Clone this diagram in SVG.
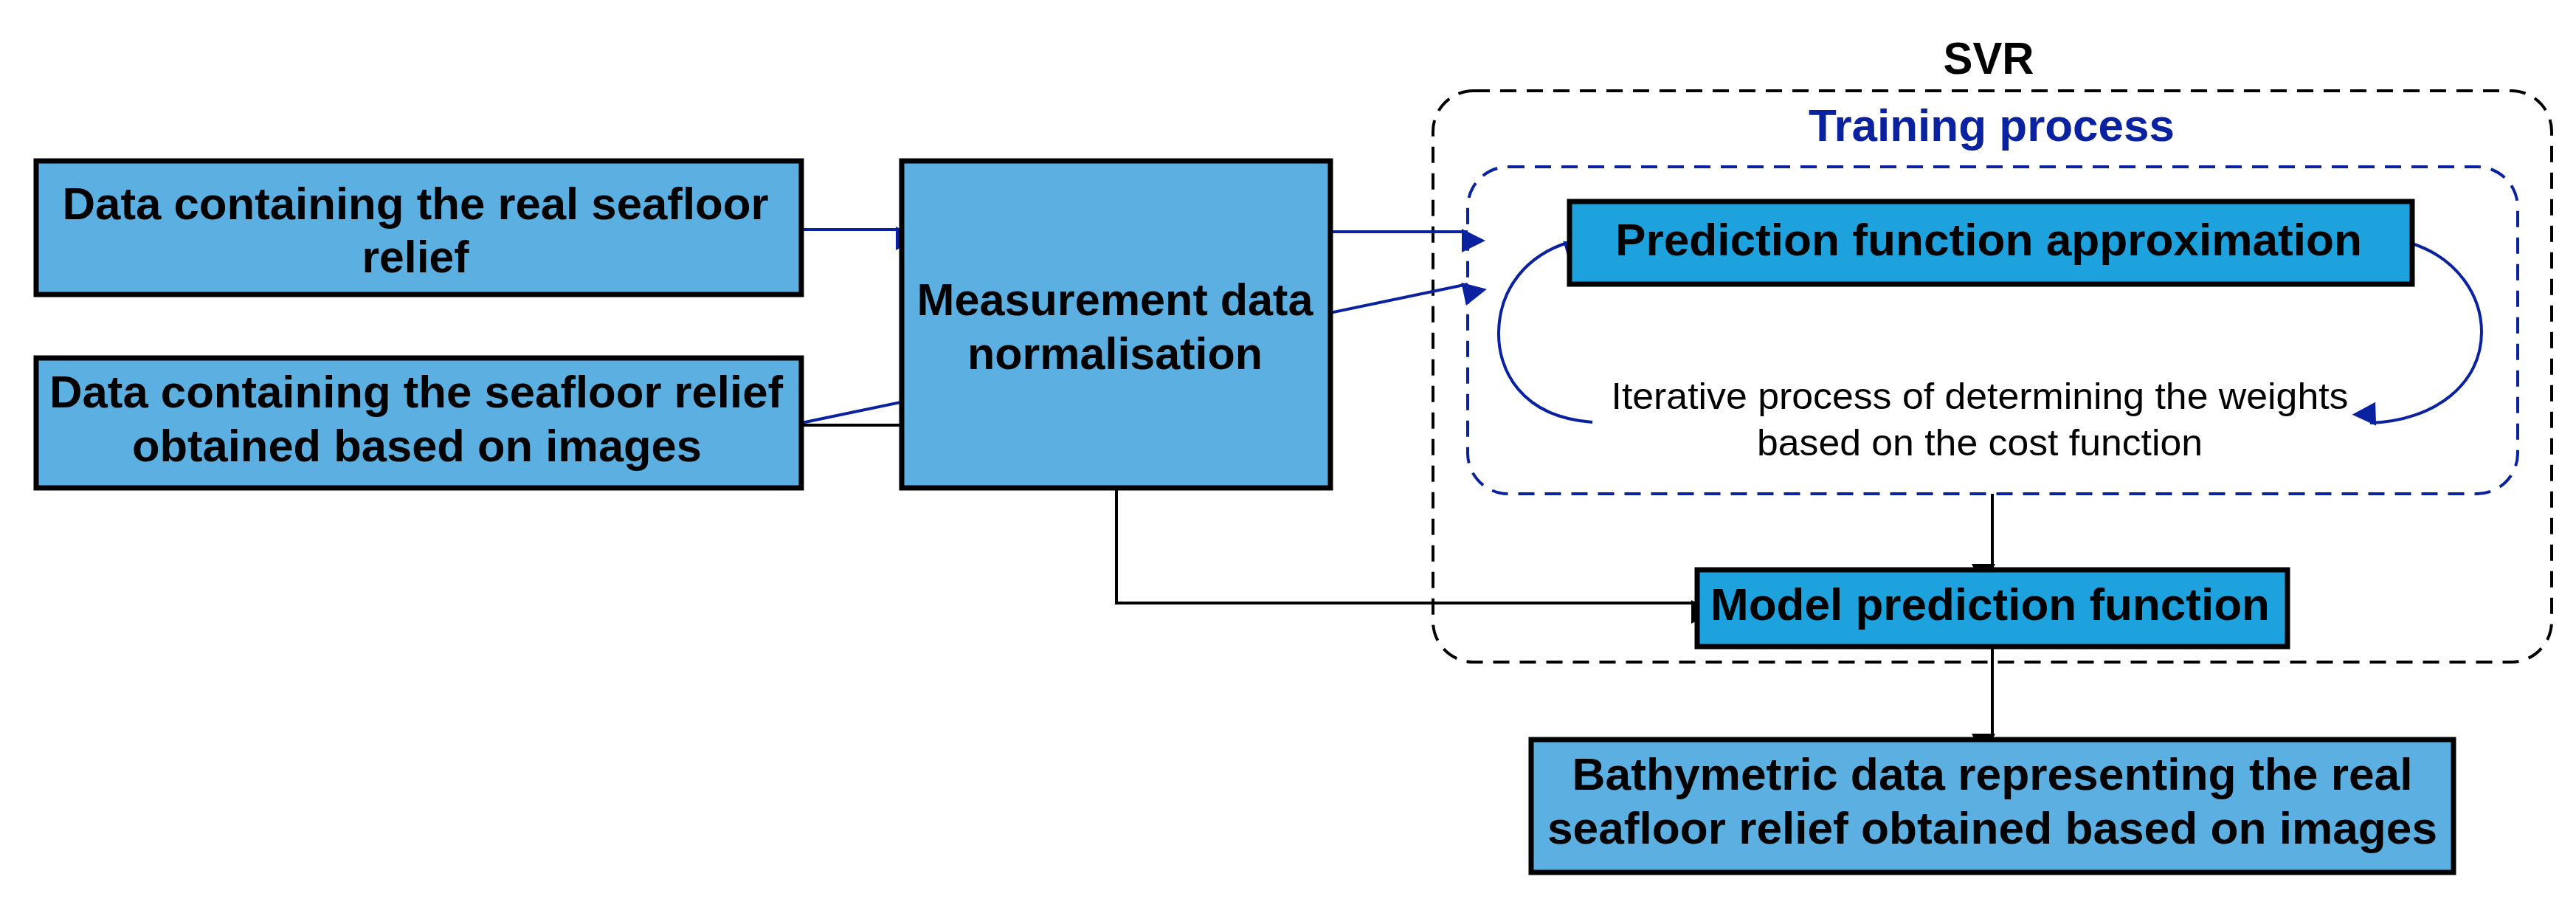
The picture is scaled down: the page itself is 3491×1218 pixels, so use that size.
<svg xmlns="http://www.w3.org/2000/svg" width="3491" height="1218" viewBox="0 0 3491 1218">
<style>
.b{fill:#5bb0e1;stroke:#000;stroke-width:7}
.d{fill:#1ea2de;stroke:#000;stroke-width:7}
.t{font-family:"Liberation Sans",Arial,sans-serif;font-weight:bold;font-size:62px;fill:#000;text-anchor:middle}
.it{font-family:"Liberation Sans",Arial,sans-serif;font-size:50px;fill:#000;text-anchor:middle}
.bl{stroke:#0a22a0;stroke-width:4;fill:none}
.k{stroke:#000;stroke-width:4;fill:none}
</style>
<defs>
<marker id="ab" viewBox="0 0 10 10" refX="10" refY="5" markerWidth="8" markerHeight="8" markerUnits="userSpaceOnUse" orient="auto" style="overflow:visible"><path d="M0,0L10,5L0,10z" fill="#0a22a0" transform="scale(4)"/></marker>
<marker id="ak" viewBox="0 0 10 10" refX="10" refY="5" markerWidth="8" markerHeight="8" markerUnits="userSpaceOnUse" orient="auto" style="overflow:visible"><path d="M0,0L10,5L0,10z" fill="#000" transform="scale(4)"/></marker>
</defs>
<rect width="3491" height="1218" fill="#fff"/>
<g id="svr">
<rect x="1942" y="123" width="1516" height="774" rx="55" fill="none" stroke="#000" stroke-width="4" stroke-dasharray="22,14"/>
<text class="t" x="2695" y="100" textLength="123" lengthAdjust="spacingAndGlyphs">SVR</text>
</g>
<g id="training">
<rect x="1989" y="226" width="1423" height="443" rx="55" fill="none" stroke="#0a22a0" stroke-width="4" stroke-dasharray="22,14"/>
<text class="t" x="2699" y="191" fill="#0a22a0" style="fill:#0a22a0" textLength="496" lengthAdjust="spacingAndGlyphs">Training process</text>
<text class="it" x="2683" y="554" textLength="999" lengthAdjust="spacingAndGlyphs">Iterative process of determining the weights</text>
<text class="it" x="2683" y="617" textLength="604" lengthAdjust="spacingAndGlyphs">based on the cost function</text>
</g>
<g id="connectors">
<path class="bl" d="M1086,573 L1989,385" marker-end="url(#ab)"/>
<path class="k" d="M1086,576 L1222,576"/>
<path class="bl" d="M1086,311 L1222,311" marker-end="url(#ab)"/>
<path class="bl" d="M1803,314 L1989,314" marker-end="url(#ab)"/>
<path class="k" d="M1513,661 L1513,817 L2300,817" marker-end="url(#ak)"/>
<path class="k" d="M2700,669 L2700,772" marker-end="url(#ak)"/>
<path class="k" d="M2700,876 L2700,1002" marker-end="url(#ak)"/>
<path class="bl" d="M2158,572 C2060,565 2030,500 2031,450 C2032,390 2070,345 2127,328" marker-end="url(#ab)"/>
<path class="bl" d="M3269,330 C3330,350 3363,400 3363,450 C3363,520 3300,570 3212,573" marker-end="url(#ab)"/>
</g>
<g id="box1">
<rect class="b" x="49" y="218" width="1037" height="181"/>
<text class="t" x="563" y="297" textLength="957" lengthAdjust="spacingAndGlyphs">Data containing the real seafloor</text>
<text class="t" x="563" y="369" textLength="145" lengthAdjust="spacingAndGlyphs">relief</text>
</g>
<g id="box2">
<rect class="b" x="49" y="485" width="1037" height="176"/>
<text class="t" x="564" y="552" textLength="994" lengthAdjust="spacingAndGlyphs">Data containing the seafloor relief</text>
<text class="t" x="565" y="625" textLength="772" lengthAdjust="spacingAndGlyphs">obtained based on images</text>
</g>
<g id="norm">
<rect class="b" x="1222" y="218" width="581" height="443"/>
<text class="t" x="1511" y="427" textLength="537" lengthAdjust="spacingAndGlyphs">Measurement data</text>
<text class="t" x="1511" y="500" textLength="400" lengthAdjust="spacingAndGlyphs">normalisation</text>
</g>
<g id="pred">
<rect class="d" x="2127" y="273" width="1142" height="112"/>
<text class="t" x="2695" y="346" textLength="1012" lengthAdjust="spacingAndGlyphs">Prediction function approximation</text>
</g>
<g id="model">
<rect class="d" x="2300" y="772" width="800" height="104"/>
<text class="t" x="2697" y="840" textLength="758" lengthAdjust="spacingAndGlyphs">Model prediction function</text>
</g>
<g id="bathy">
<rect class="b" x="2075" y="1002" width="1250" height="180"/>
<text class="t" x="2700" y="1070" textLength="1139" lengthAdjust="spacingAndGlyphs">Bathymetric data representing the real</text>
<text class="t" x="2700" y="1143" textLength="1206" lengthAdjust="spacingAndGlyphs">seafloor relief obtained based on images</text>
</g>
</svg>
